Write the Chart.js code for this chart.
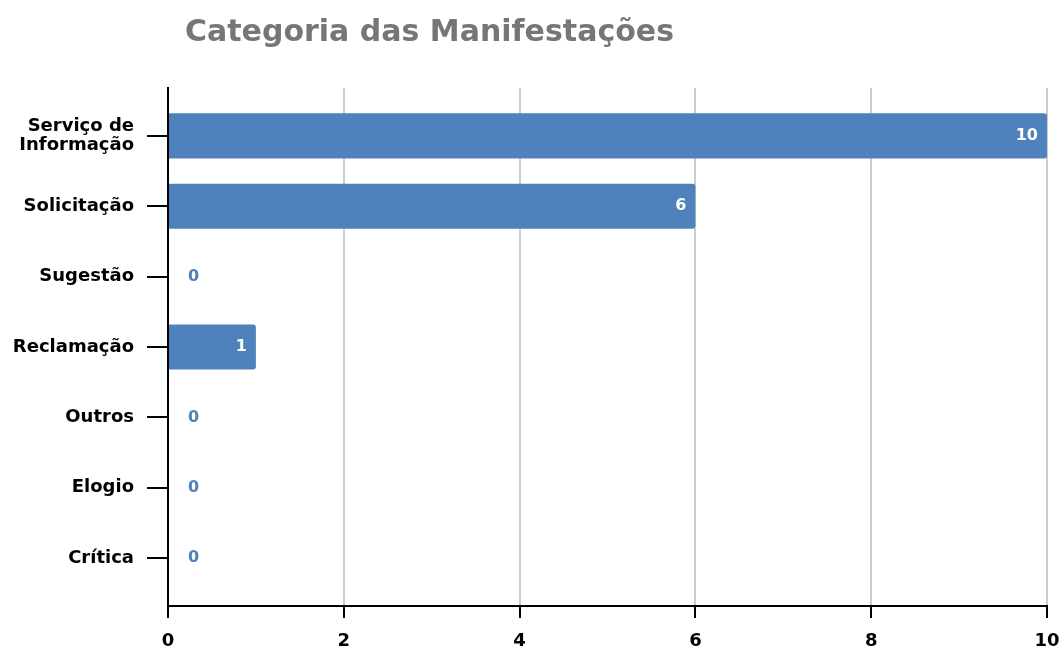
<!DOCTYPE html>
<html>
<head>
<meta charset="utf-8">
<script src="https://cdn.jsdelivr.net/npm/chart.js@4"></script>
<style>
  html, body { margin: 0; padding: 0; background: #fff; }
  #wrap { width: 1063px; height: 653px; }
</style>
</head>
<body>
<div id="wrap"><canvas id="chart" width="1063" height="653"></canvas></div>
<script>
const titleText = 'Categoria das Manifestações';
const categories = [['Serviço de', 'Informação'], 'Solicitação', 'Sugestão', 'Reclamação', 'Outros', 'Elogio', 'Crítica'];
const values = [10, 6, 0, 1, 0, 0, 0];
const xTicks = [0, 2, 4, 6, 8, 10];

const FONT = "'DejaVu Sans', sans-serif";
const BLUE = '#4F81BD';

// titulo desenhado a mao para poder ficar deslocado a esquerda
const titlePlugin = {
    id: 'titleText',
    afterDraw(chart) {
        const ctx = chart.ctx;
        ctx.save();
        ctx.font = 'bold 30px ' + FONT;
        ctx.fillStyle = '#767676';
        ctx.textAlign = 'left';
        ctx.textBaseline = 'alphabetic';
        ctx.fillText(titleText, 185, 41);
        ctx.restore();
    }
};

// rotulos de valor no fim das barras
const valueLabels = {
    id: 'valueLabels',
    afterDatasetsDraw(chart) {
        const ctx = chart.ctx;
        const meta = chart.getDatasetMeta(0);
        ctx.save();
        ctx.font = 'bold 16px ' + FONT;
        ctx.textBaseline = 'middle';
        meta.data.forEach(function(bar, i) {
            const v = values[i];
            if (v > 0) {
                ctx.fillStyle = '#fff';
                ctx.textAlign = 'right';
                ctx.fillText(String(v), bar.x - 9, bar.y);
            } else {
                ctx.fillStyle = BLUE;
                ctx.textAlign = 'left';
                ctx.fillText(String(v), bar.x + 20, bar.y);
            }
        });
        ctx.restore();
    }
};

const chart = new Chart(document.getElementById('chart'), {
    type: 'bar',
    data: {
        datasets: [{
            data: values.map(function(v, i) { return { x: v, y: i }; }),
            backgroundColor: BLUE,
            borderRadius: 3,
            borderSkipped: 'start',
            categoryPercentage: 0.8,
            barPercentage: 0.8
        }]
    },
    options: {
        indexAxis: 'y',
        responsive: false,
        animation: false,
        layout: { padding: { top: 88, right: 16, left: 10, bottom: 0 } },
        plugins: {
            legend: { display: false },
            tooltip: { enabled: false },
            title: { display: false }
        },
        scales: {
            x: {
                type: 'linear',
                min: 0,
                max: 10,
                afterBuildTicks: function(s) { s.ticks = xTicks.map(function(v) { return { value: v }; }); },
                afterFit: function(s) { s.height = 47; s.paddingLeft = 0; s.paddingRight = 0; },
                border: { color: '#000', width: 2 },
                grid: { color: '#cccccc', lineWidth: 2, tickColor: '#000', tickLength: 12 },
                ticks: { color: '#000', padding: 13, font: { family: FONT, size: 18, weight: 'bold' } }
            },
            y: {
                type: 'linear',
                reverse: true,
                offset: false,
                min: -0.68,
                max: 6.68,
                afterBuildTicks: function(s) { s.ticks = categories.map(function(c, i) { return { value: i }; }); },
                afterFit: function(s) { s.width = 158; },
                border: { color: '#000', width: 2 },
                grid: { offset: false, drawOnChartArea: false, tickColor: '#000', lineWidth: 2, tickLength: 21 },
                ticks: {
                    color: '#000',
                    padding: 13,
                    font: { family: FONT, size: 18, weight: 'bold', lineHeight: 1.1 },
                    callback: function(v) { return categories[v]; }
                }
            }
        }
    },
    plugins: [titlePlugin, valueLabels]
});
</script>
</body>
</html>
